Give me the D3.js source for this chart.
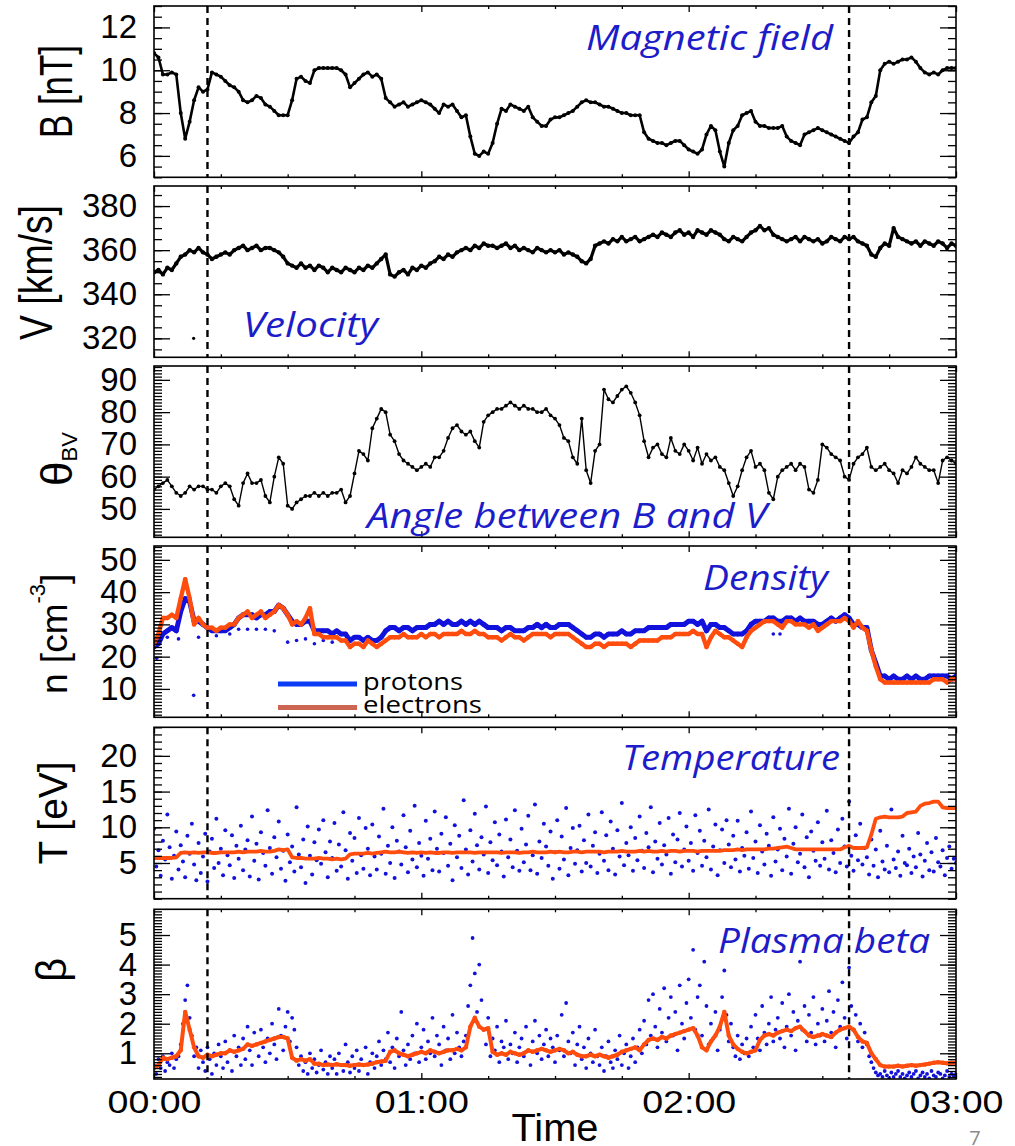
<!DOCTYPE html>
<html>
<head>
<meta charset="utf-8">
<script src="https://cdn.jsdelivr.net/npm/d3@7/dist/d3.min.js"></script>
<style>
html,body{margin:0;padding:0;background:#fff;}
svg{display:block;}
</style>
</head>
<body>
<svg id="chart" width="1015" height="1146"></svg>
<script>
// ======================= DATA =======================
// time axis (minutes after 00:00)
const timeTickLabels = ["00:00", "01:00", "02:00", "03:00"];
const timeMajorTicks = [0, 60, 120, 180];
const timeMinorTicks = [15, 30, 45, 75, 90, 105, 135, 150, 165];
const boundaryMinutes = [12, 156];

// y tick labels of each panel
const bTicks = [6, 8, 10, 12];
const vTicks = [320, 340, 360, 380];
const thetaTicks = [50, 60, 70, 80, 90];
const nTicks = [10, 20, 30, 40, 50];
const tTicks = [5, 10, 15, 20];
const betaTicks = [1, 2, 3, 4, 5];

// panel annotations
const panelTitles = ["Magnetic field", "Velocity", "Angle between B and V", "Density", "Temperature", "Plasma beta"];
const legendLabels = ["protons", "electrons"];

// one value per minute, 00:00 .. 03:00
const bField = [
 10.8,10.6,9.8,9.8,9.9,9.8,8.0,6.8,7.6,8.6,
 9.2,9.0,9.1,9.9,9.8,9.7,9.5,9.3,9.2,9.0,
 8.6,8.5,8.6,8.8,8.7,8.4,8.3,8.1,7.9,7.9,
 7.9,8.6,9.6,9.7,9.5,9.4,10.0,10.1,10.1,10.1,
 10.1,10.1,10.0,9.8,9.2,9.4,9.6,9.8,9.9,9.7,
 9.8,9.6,8.7,8.5,8.3,8.4,8.5,8.3,8.4,8.5,
 8.6,8.5,8.4,8.2,8.0,8.4,8.3,8.4,8.1,7.8,
 7.9,6.9,6.1,6.0,6.2,6.1,6.6,7.5,8.2,8.1,
 8.4,8.3,8.2,8.1,8.3,7.8,7.6,7.4,7.4,7.7,
 7.8,7.8,7.9,8.0,8.1,8.3,8.5,8.6,8.5,8.5,
 8.4,8.3,8.3,8.2,8.1,8.0,8.0,7.9,7.9,7.9,
 7.1,6.8,6.7,6.6,6.6,6.5,6.6,6.7,6.7,6.5,
 6.3,6.2,6.1,6.3,7.0,7.4,7.2,6.2,5.5,6.6,
 7.2,7.4,7.9,8.0,8.1,7.6,7.4,7.4,7.3,7.3,
 7.3,7.4,6.9,6.7,6.6,6.5,7.0,7.1,7.2,7.3,
 7.2,7.1,7.0,6.9,6.8,6.7,6.6,6.9,7.1,7.7,
 7.8,8.5,8.8,10.0,10.3,10.4,10.3,10.4,10.5,10.5,
 10.6,10.4,10.1,9.9,9.8,9.9,9.8,10.0,10.1,10.1,
 10.1];

const velocity = [
 350,351,349,352,351,354,357,358,360,359,
 361,359,358,356,357,358,359,358,360,361,
 362,360,361,362,360,361,361,360,359,357,
 354,353,352,354,352,353,351,353,352,350,
 352,351,350,352,351,350,352,351,353,352,
 354,356,358,349,348,350,351,349,352,351,
 353,352,354,355,357,356,358,357,359,360,
 361,360,362,361,363,362,362,361,362,363,
 361,362,360,361,360,359,361,360,359,360,
 359,360,358,359,358,357,355,354,356,362,
 363,364,363,365,364,366,364,365,366,364,
 365,366,367,366,368,367,366,368,369,367,
 368,366,369,368,367,369,368,367,365,364,
 366,365,364,366,368,369,371,369,370,367,
 366,365,364,365,366,364,366,365,364,365,
 363,364,366,365,364,366,365,366,364,363,
 362,358,357,361,363,362,370,366,365,364,
 363,364,362,364,363,362,364,363,361,363,
 362];
const velocityOutliers = [[8.9, 320]];

const thetaBV = [
 56,57,58,59,57,55,54,55,57,56,
 57,57,56,56,55,57,58,57,53,51,
 58,61,58,58,59,54,52,60,66,64,
 51,50,52,53,54,54,55,54,55,54,
 55,55,56,52,54,61,68,67,65,75,
 78,81,80,73,71,67,65,64,63,62,
 63,64,63,66,66,68,72,75,76,74,
 73,74,71,69,77,79,80,81,81,82,
 83,82,81,82,81,81,80,80,81,79,
 78,76,72,71,66,64,78,62,58,68,
 70,87,84,83,85,87,88,86,83,79,
 71,66,69,70,67,66,72,68,67,70,
 68,65,69,64,67,65,66,63,62,58,
 54,57,62,66,68,63,64,62,55,53,
 60,62,63,64,62,64,63,56,55,59,
 70,69,67,66,65,60,59,64,66,67,
 69,63,62,63,64,62,61,58,62,61,
 63,66,64,63,62,62,58,65,66,65,
 64];

const nProtons = [
 23,24,27,28,29,28,34,38,37,31,
 31,30,29,28,28,28,28,29,30,32,
 33,33,33,32,33,33,34,34,36,35,
 33,31,30,30,31,31,28,28,28,28,
 27,28,27,27,25,26,26,25,26,25,
 25,26,28,29,29,28,29,29,28,29,
 29,29,30,30,31,30,31,30,30,31,
 30,31,30,31,30,29,29,29,28,29,
 29,28,28,28,29,29,30,29,30,29,
 29,30,30,30,29,28,27,26,26,27,
 27,26,27,27,27,28,27,27,28,28,
 28,29,29,29,29,29,30,30,30,30,
 31,31,30,31,28,30,30,29,29,28,
 27,27,27,28,30,31,31,31,32,32,
 31,31,32,32,31,32,31,31,31,30,
 30,31,32,31,32,33,32,30,30,29,
 29,22,18,14,14,13,14,13,13,14,
 13,14,13,13,14,14,14,14,14,13,
 14];
const nProtonOutliers = [[0.6,19.5],[3,26],[5.5,25.5],[8.9,8],[10,26],[14,26.5],[17,27],[19,28.5],
 [21,28.5],[23,28.5],[25,28.5],[27,28],[30,24.5],[32,25],[34,25.5],[36,24],[38,25],[40,24.5],[139,27],[140.5,27]];

const nElectrons = [
 24,27,32,32,33,32,38,44,38,30,
 32,30,29,29,28,29,29,30,30,32,
 33,34,32,33,34,32,33,34,36,35,
 33,30,31,30,32,35,27,27,26,26,
 26,26,25,25,23,24,24,23,25,24,
 23,24,25,26,26,26,27,26,26,26,
 27,26,27,27,26,27,27,27,27,28,
 27,27,28,27,27,26,26,26,25,26,
 27,26,26,25,26,27,27,27,27,26,
 27,27,27,27,26,25,24,23,23,24,
 24,23,24,24,24,24,24,23,24,25,
 25,25,25,25,26,26,26,27,27,27,
 27,28,27,27,23,26,28,27,26,26,
 25,24,23,26,28,29,30,31,31,31,
 30,29,31,31,30,30,30,29,30,28,
 29,30,31,31,31,32,31,29,31,29,
 28,22,17,13,12,12,12,12,12,12,
 12,12,12,12,12,13,13,13,12,13,
 13];

// one value every half minute
const tProtons = [
 9.8,4.5,6.8,3.2,8.1,5.5,11.8,7.2,2.8,6.0,9.4,4.1,7.5,5.2,3.0,8.8,6.3,10.5,4.8,2.6,
 7.8,3.6,5.9,9.1,2.4,6.6,8.4,4.3,11.2,5.0,7.0,3.3,9.6,6.1,4.7,8.9,2.9,7.4,5.6,10.2,
 4.0,6.9,8.2,3.1,11.5,5.3,7.7,2.7,9.3,6.4,4.6,12.4,7.1,3.5,8.6,5.8,10.8,4.2,6.7,2.5,
 9.0,5.1,7.3,3.8,12.8,6.2,4.4,8.3,2.2,10.1,6.0,3.4,7.9,5.4,9.7,4.9,11.0,6.5,3.0,8.0,
 5.7,10.6,3.9,7.6,4.5,12.1,6.8,2.8,9.2,5.3,8.5,3.6,11.3,6.1,4.2,9.9,7.0,3.3,10.4,5.9,
 4.1,8.7,6.3,12.6,3.5,7.4,5.0,10.0,2.9,8.1,6.6,4.8,11.7,7.2,3.7,9.5,5.5,13.0,4.4,7.8,
 6.0,3.2,10.9,5.6,8.4,4.0,12.2,7.0,3.8,9.1,6.4,11.4,4.6,7.7,2.6,10.3,5.8,8.8,4.3,13.8,
 6.9,3.4,9.6,5.2,11.9,7.5,4.1,8.6,6.2,12.9,3.6,7.9,5.4,10.7,4.7,9.0,6.6,3.1,11.1,5.8,
 8.3,4.4,12.4,6.7,3.9,9.8,5.1,7.6,11.6,4.0,6.1,13.2,3.5,8.0,5.7,10.5,7.3,4.6,9.4,2.8,
 6.5,11.0,4.2,8.7,5.5,12.7,3.3,7.1,9.9,4.9,6.8,10.2,3.8,8.2,5.0,11.8,4.5,7.4,9.3,3.6,
 6.3,12.1,5.3,8.9,4.0,10.8,7.0,3.4,9.6,5.9,13.4,4.7,7.8,6.1,10.0,3.9,8.5,5.4,11.5,6.7,
 4.3,9.2,7.2,12.8,3.7,8.0,5.6,10.6,4.8,7.5,6.2,11.3,3.5,9.0,5.1,8.3,12.0,4.5,6.9,10.1,
 5.3,7.8,3.9,11.7,6.4,9.5,4.6,8.1,5.8,12.5,4.1,7.3,10.4,3.3,6.8,9.7,5.0,11.0,7.6,4.4,
 8.8,5.5,10.9,3.8,7.1,6.0,9.3,4.2,12.2,5.7,8.0,3.6,10.3,6.6,4.8,9.1,7.4,3.2,11.4,5.2,
 6.9,9.8,4.0,8.4,5.9,12.6,3.5,7.7,10.0,5.1,6.3,11.8,4.4,8.6,3.0,9.4,6.7,5.3,10.7,4.6,
 7.9,5.6,12.3,4.1,8.2,6.4,3.7,9.7,5.0,11.2,7.3,4.5,13.6,6.0,3.9,8.9,5.4,10.5,4.8,7.1,
 5.8,3.4,8.3,4.6,6.9,3.0,9.5,5.2,4.1,7.4,3.7,12.5,5.5,4.3,6.6,3.2,8.8,5.0,4.7,7.0,
 3.6,5.9,4.4,9.2,6.2,3.1,5.3,7.8,4.0,6.5,3.8,8.5,5.1,4.5,6.8,3.3,5.7,7.3,4.2,5.6,
 5.0];

const tElectrons = [
 5.7,5.7,5.7,5.7,5.7,5.8,6.4,6.5,6.4,6.5,
 6.4,6.5,6.5,6.4,6.4,6.5,6.5,6.5,6.5,6.6,
 6.5,6.6,6.6,6.6,6.7,6.6,6.6,6.7,6.9,6.8,
 6.9,5.8,5.7,5.7,5.6,5.6,5.6,5.7,5.6,5.6,
 5.5,5.6,5.5,5.6,6.2,6.3,6.3,6.3,6.4,6.3,
 6.4,6.5,6.6,6.5,6.5,6.6,6.5,6.4,6.5,6.4,
 6.5,6.4,6.5,6.4,6.4,6.5,6.5,6.4,6.5,6.5,
 6.5,6.5,6.4,6.5,6.5,6.5,6.5,6.5,6.4,6.5,
 6.5,6.5,6.4,6.5,6.5,6.6,6.5,6.5,6.5,6.6,
 6.5,6.6,6.5,6.5,6.6,6.6,6.5,6.6,6.6,6.6,
 6.6,6.5,6.6,6.6,6.6,6.7,6.6,6.6,6.6,6.7,
 6.6,6.7,6.6,6.6,6.7,6.6,6.7,6.7,6.6,6.7,
 6.7,6.7,6.6,6.7,6.7,6.7,6.7,6.7,6.8,6.8,
 6.8,6.9,6.8,6.9,6.9,6.9,6.9,6.9,7.0,7.0,
 7.1,7.2,7.3,7.1,6.9,6.9,6.9,6.9,6.9,6.9,
 6.9,6.9,6.9,6.9,6.9,7.2,7.4,7.1,7.1,7.1,
 7.2,9.0,11.2,11.4,11.5,11.4,11.4,11.4,11.5,12.0,
 12.1,12.2,13.0,13.3,13.4,13.6,13.6,12.8,12.7,12.7,
 12.7];

// one value every half minute
const betaProtons = [
 0.6,0.3,0.8,0.5,0.9,0.4,0.7,0.6,1.0,0.5,0.8,0.9,1.3,2.0,2.8,3.3,2.2,1.6,0.9,1.2,
 0.5,1.1,0.7,0.4,1.2,0.8,0.3,1.0,0.6,1.3,0.9,0.5,1.4,0.7,1.1,0.4,1.6,0.9,1.2,0.6,
 1.5,0.8,1.9,1.1,0.6,1.7,1.3,0.9,1.8,1.2,0.7,1.5,1.0,2.0,1.3,0.8,2.5,1.6,1.1,1.9,
 2.4,1.4,2.2,1.8,1.2,0.6,0.9,0.4,0.7,0.3,1.0,0.5,0.8,0.35,0.6,1.1,0.45,0.7,0.3,0.9,
 0.5,0.8,0.3,1.0,0.6,0.4,1.3,0.7,0.35,0.9,0.5,1.1,0.4,0.8,0.6,1.2,0.3,0.7,1.0,0.5,
 0.9,1.4,0.6,1.1,0.8,1.7,0.7,1.2,0.5,1.5,0.9,2.4,1.1,0.6,1.3,0.8,1.6,1.0,2.0,0.7,
 1.2,1.8,0.8,1.4,1.0,2.2,0.9,1.6,1.3,0.6,1.9,1.1,1.5,0.8,2.3,1.0,1.7,1.2,0.9,1.4,
 1.6,2.6,3.3,4.9,3.7,2.4,4.0,2.8,1.8,1.3,2.2,0.9,1.5,1.1,1.9,0.7,1.4,1.2,2.1,0.8,
 1.3,1.0,1.7,0.7,1.2,1.5,0.9,1.9,1.1,0.6,1.4,2.1,1.0,1.6,0.8,1.3,1.8,0.9,1.5,1.2,
 0.7,1.6,1.1,2.3,0.9,2.7,1.4,1.0,1.7,0.6,1.3,1.9,0.8,1.2,0.5,1.5,1.0,0.7,1.8,0.9,
 0.6,1.2,0.4,0.9,1.4,0.7,0.5,1.1,0.8,1.6,0.6,1.0,1.3,0.5,0.9,1.5,0.7,1.2,1.8,1.0,
 2.1,1.3,2.8,1.6,3.0,1.9,1.2,2.5,1.7,3.2,1.4,2.2,2.9,1.6,2.4,1.1,3.3,2.0,1.5,2.7,
 3.5,2.2,4.5,1.8,2.9,3.3,1.6,4.1,2.6,1.3,2.0,1.5,2.4,1.1,1.8,2.9,3.8,2.3,1.4,2.0,
 1.2,0.9,1.6,0.8,1.3,1.0,1.5,0.9,1.9,1.2,2.3,1.5,1.1,2.6,1.7,1.3,2.0,2.9,1.4,1.8,
 2.2,1.5,2.7,1.2,1.9,3.0,1.6,2.4,1.1,2.1,4.1,1.8,2.6,1.4,2.3,1.7,2.9,1.3,2.0,1.6,
 2.5,1.4,2.1,3.1,1.7,2.4,1.2,2.8,1.9,3.4,2.2,1.5,3.9,2.6,1.8,2.3,1.4,2.0,1.2,1.7,
 1.3,0.9,0.7,0.5,0.35,0.25,0.3,0.2,0.4,0.25,0.15,0.35,0.2,0.3,0.4,0.2,0.3,0.15,0.25,0.35,
 0.2,0.3,0.4,0.15,0.25,0.35,0.2,0.3,0.15,0.4,0.25,0.2,0.35,0.3,0.15,0.25,0.4,0.2,0.3,0.25,
 0.3];

const betaElectrons = [
 0.5,0.6,0.85,0.8,0.85,0.9,1.1,2.4,1.8,1.2,
 0.9,0.85,0.95,0.9,0.95,1.0,1.0,1.1,1.05,1.1,
 1.15,1.3,1.25,1.3,1.35,1.4,1.45,1.5,1.55,1.55,
 1.5,0.85,0.75,0.8,0.75,0.8,0.65,0.65,0.6,0.62,
 0.6,0.63,0.6,0.6,0.58,0.6,0.62,0.6,0.62,0.65,
 0.7,0.72,0.75,1.05,1.1,1.0,0.95,0.9,0.95,1.0,
 1.05,1.0,1.1,1.05,1.0,1.05,1.1,1.1,1.15,1.1,
 1.2,1.9,2.2,1.9,1.8,1.85,1.05,0.95,1.0,0.95,
 1.05,1.0,0.95,1.0,1.1,1.05,1.1,1.15,1.1,1.05,
 1.1,1.15,1.1,1.0,1.05,0.95,0.9,0.9,0.95,0.9,
 0.95,0.9,0.85,0.9,0.95,1.05,1.1,1.15,1.2,1.1,
 1.3,1.45,1.5,1.45,1.55,1.5,1.6,1.65,1.7,1.75,
 1.8,1.85,1.6,1.2,1.1,1.4,1.6,1.9,2.4,1.6,
 1.3,1.15,1.05,1.0,1.05,1.1,1.45,1.6,1.65,1.6,
 1.7,1.75,1.8,1.75,1.85,1.9,1.75,1.6,1.55,1.6,
 1.65,1.6,1.55,1.7,1.8,1.85,1.9,1.8,1.55,1.4,
 1.35,1.0,0.8,0.6,0.55,0.55,0.55,0.58,0.55,0.58,
 0.6,0.58,0.6,0.62,0.65,0.68,0.7,0.68,0.66,0.68,
 0.68];

// sample times
const minuteStamps = d3.range(0, 181);
const halfMinuteStamps = d3.range(0, 361).map(i => i / 2);

// ======================= LAYOUT / STYLE =======================
const FONT = "'Liberation Sans', Arial, Helvetica, sans-serif";
const NOTE_FONT = "'Open Sans', 'Noto Sans', sans-serif";
const BLUE = "#1212dc";
const ORANGE = "#ff4d0d";
const NOTE_BLUE = "#1c1cc8";
const PL = 154, PR = 956;

const svg = d3.select("#chart");
svg.append("rect").attr("width", 1015).attr("height", 1146).attr("fill", "#fff");
const defs = svg.append("defs");

const x = d3.scaleLinear().domain([0, 180]).range([PL, PR]);

const panels = [
  {y0: 6,     y1: 177.3, domain: [5, 13],        ticks: bTicks,     minor: 0.5},
  {y0: 186,   y1: 357.3, domain: [311.4, 389.1], ticks: vTicks,     minor: 5},
  {y0: 366,   y1: 537.3, domain: [41.2, 94.3],   ticks: thetaTicks, minor: 1},
  {y0: 546,   y1: 717.3, domain: [1.2, 54.3],    ticks: nTicks,     minor: 1},
  {y0: 727.3, y1: 898.7, domain: [0, 24],        ticks: tTicks,     minor: 1},
  {y0: 909.3, y1: 1079,  domain: [0.13, 5.87],   ticks: betaTicks,  minor: 0.1}
];

function minorValues(domain, step) {
  const k0 = Math.ceil(domain[0] / step - 1e-9), k1 = Math.floor(domain[1] / step + 1e-9);
  return d3.range(k0, k1 + 1).map(k => +(k * step).toFixed(4));
}

function styleAxis(g) {
  g.select(".domain").remove();
  g.selectAll("line").attr("stroke", "#000").attr("stroke-width", 1.3);
}

panels.forEach((p, i) => {
  p.y = d3.scaleLinear().domain(p.domain).range([p.y1, p.y0]);
  p.g = svg.append("g");
  defs.append("clipPath").attr("id", "clip" + i)
    .append("rect").attr("x", PL).attr("y", p.y0).attr("width", PR - PL).attr("height", p.y1 - p.y0);
  p.data = p.g.append("g").attr("clip-path", `url(#clip${i})`);
});

// ---------- helpers ----------
function dots(p, xs, vals, r, color) {
  p.data.append("g").selectAll("circle").data(vals).join("circle")
    .attr("cx", (d, i) => x(xs[i])).attr("cy", d => p.y(d)).attr("r", r).attr("fill", color);
}
function pairDots(p, pairs, r, color) {
  p.data.append("g").selectAll("circle").data(pairs).join("circle")
    .attr("cx", d => x(d[0])).attr("cy", d => p.y(d[1])).attr("r", r).attr("fill", color);
}
function trace(p, xs, vals, w, color) {
  p.data.append("path").datum(vals)
    .attr("d", d3.line().x((d, i) => x(xs[i])).y(d => p.y(d)))
    .attr("fill", "none").attr("stroke", color).attr("stroke-width", w)
    .attr("stroke-linejoin", "round").attr("stroke-linecap", "round");
}

// ---------- series ----------
// B
trace(panels[0], minuteStamps, bField, 2.6, "#000");
dots(panels[0], minuteStamps, bField, 2.0, "#000");
// V
trace(panels[1], minuteStamps, velocity, 3.2, "#000");
dots(panels[1], minuteStamps, velocity, 2.2, "#000");
pairDots(panels[1], velocityOutliers, 1.6, "#000");
// theta
trace(panels[2], minuteStamps, thetaBV, 1.4, "#000");
dots(panels[2], minuteStamps, thetaBV, 1.9, "#000");
// density
pairDots(panels[3], nProtonOutliers, 1.8, BLUE);
trace(panels[3], minuteStamps, nProtons, 5, BLUE);
dots(panels[3], minuteStamps, nProtons, 2.4, BLUE);
trace(panels[3], minuteStamps, nElectrons, 4.4, ORANGE);
dots(panels[3], minuteStamps, nElectrons, 2.2, ORANGE);
// temperature
dots(panels[4], halfMinuteStamps, tProtons, 2.0, BLUE);
trace(panels[4], minuteStamps, tElectrons, 3.8, ORANGE);
// beta
dots(panels[5], halfMinuteStamps, betaProtons, 1.9, BLUE);
trace(panels[5], minuteStamps, betaElectrons, 4, ORANGE);
dots(panels[5], minuteStamps, betaElectrons, 2.2, ORANGE);

// ---------- axes, frames, boundaries ----------
panels.forEach((p, i) => {
  const g = p.g;
  // left
  g.append("g").attr("transform", `translate(${PL},0)`)
    .call(d3.axisLeft(p.y).tickValues(minorValues(p.domain, p.minor)).tickSize(-8).tickFormat(""))
    .call(styleAxis);
  g.append("g").attr("transform", `translate(${PL},0)`)
    .call(d3.axisLeft(p.y).tickValues(p.ticks).tickSize(-16).tickPadding(17).tickFormat(d3.format("d")))
    .call(styleAxis)
    .attr("font-size", 33).attr("font-family", FONT)
    .selectAll("text").attr("fill", "#000");
  // right
  g.append("g").attr("transform", `translate(${PR},0)`)
    .call(d3.axisRight(p.y).tickValues(minorValues(p.domain, p.minor)).tickSize(-8).tickFormat(""))
    .call(styleAxis);
  g.append("g").attr("transform", `translate(${PR},0)`)
    .call(d3.axisRight(p.y).tickValues(p.ticks).tickSize(-16).tickFormat(""))
    .call(styleAxis);
  // top & bottom
  g.append("g").attr("transform", `translate(0,${p.y0})`)
    .call(d3.axisTop(x).tickValues(timeMinorTicks).tickSize(-3).tickFormat("")).call(styleAxis);
  g.append("g").attr("transform", `translate(0,${p.y0})`)
    .call(d3.axisTop(x).tickValues(timeMajorTicks).tickSize(-6).tickFormat("")).call(styleAxis);
  g.append("g").attr("transform", `translate(0,${p.y1})`)
    .call(d3.axisBottom(x).tickValues(timeMinorTicks).tickSize(-3).tickFormat("")).call(styleAxis);
  const bottom = g.append("g").attr("transform", `translate(0,${p.y1})`)
    .call(d3.axisBottom(x).tickValues(timeMajorTicks).tickSize(-6).tickPadding(12)
      .tickFormat((d, k) => i === panels.length - 1 ? timeTickLabels[k] : ""))
    .call(styleAxis)
    .attr("font-size", 31).attr("font-family", FONT);
  if (i === panels.length - 1) {
    bottom.selectAll("text").attr("fill", "#000").attr("textLength", 94).attr("lengthAdjust", "spacingAndGlyphs");
  }
  // boundaries
  boundaryMinutes.forEach(m => {
    g.append("line").attr("x1", x(m)).attr("x2", x(m)).attr("y1", p.y0).attr("y2", p.y1)
      .attr("stroke", "#000").attr("stroke-width", 2.4).attr("stroke-dasharray", "7,5");
  });
  // frame
  g.append("rect").attr("x", PL).attr("y", p.y0).attr("width", PR - PL).attr("height", p.y1 - p.y0)
    .attr("fill", "none").attr("stroke", "#000").attr("stroke-width", 1.6);
});

// ---------- y titles ----------
function yTitle(text, bx, cy, size, len) {
  const t = svg.append("text").attr("transform", `translate(${bx},${cy}) rotate(-90)`)
    .attr("text-anchor", "middle").attr("font-size", size).attr("font-family", FONT).attr("fill", "#000").text(text);
  if (len) t.attr("textLength", len).attr("lengthAdjust", "spacingAndGlyphs");
}
yTitle("B [nT]", 72, 91.5, 46, 93);
yTitle("V [km/s]", 52, 272.5, 46, 135);
yTitle("T [eV]", 67, 813, 40, 103);
yTitle("\u03b2", 66, 970, 42, null);
{
  const t = svg.append("text").attr("transform", "translate(72,486) rotate(-90)")
    .attr("font-family", FONT).attr("fill", "#000");
  t.append("tspan").attr("font-size", 44).text("\u03b8");
  t.append("tspan").attr("font-size", 22).attr("dy", 5).text("BV");
}
{
  const t = svg.append("text").attr("transform", "translate(67,694) rotate(-90)")
    .attr("font-family", FONT).attr("fill", "#000").attr("font-size", 37);
  t.append("tspan").text("n [cm");
  t.append("tspan").attr("font-size", 22).attr("dy", -22).text("-3");
  t.append("tspan").attr("dy", 22).text("]");
}

// ---------- panel annotations ----------
const notes = [
  {x: 586, y: 50,  len: 247},
  {x: 243, y: 337, len: 135},
  {x: 367, y: 528, len: 400},
  {x: 703, y: 590, len: 125},
  {x: 622, y: 770, len: 218},
  {x: 718, y: 953, len: 212}
];
notes.forEach((n, i) => {
  svg.append("text").attr("x", n.x).attr("y", n.y)
    .attr("font-family", NOTE_FONT).attr("font-style", "italic").attr("font-size", 34)
    .attr("fill", NOTE_BLUE).attr("textLength", n.len).attr("lengthAdjust", "spacingAndGlyphs")
    .text(panelTitles[i]);
});

// ---------- legend ----------
const legendColors = ["#0a3cf5", "#cc6652"];
const legendY = [684, 707.5];
const legendTextY = [690, 713];
const legendLen = [100, 119];
legendLabels.forEach((lab, i) => {
  svg.append("line").attr("x1", 278).attr("x2", 357).attr("y1", legendY[i]).attr("y2", legendY[i])
    .attr("stroke", legendColors[i]).attr("stroke-width", 5);
  svg.append("text").attr("x", 363).attr("y", legendTextY[i])
    .attr("font-family", NOTE_FONT).attr("font-size", 24).attr("fill", "#000")
    .attr("textLength", legendLen[i]).attr("lengthAdjust", "spacingAndGlyphs").text(lab);
});

// ---------- x title & page number ----------
svg.append("text").attr("x", 555).attr("y", 1141).attr("text-anchor", "middle")
  .attr("font-family", FONT).attr("font-size", 38).attr("fill", "#000")
  .attr("textLength", 87).attr("lengthAdjust", "spacingAndGlyphs").text("Time");
svg.append("text").attr("x", 975).attr("y", 1145).attr("text-anchor", "middle")
  .attr("font-family", NOTE_FONT).attr("font-size", 20).attr("fill", "#8a8a8a").text("7");
</script>
</body>
</html>
